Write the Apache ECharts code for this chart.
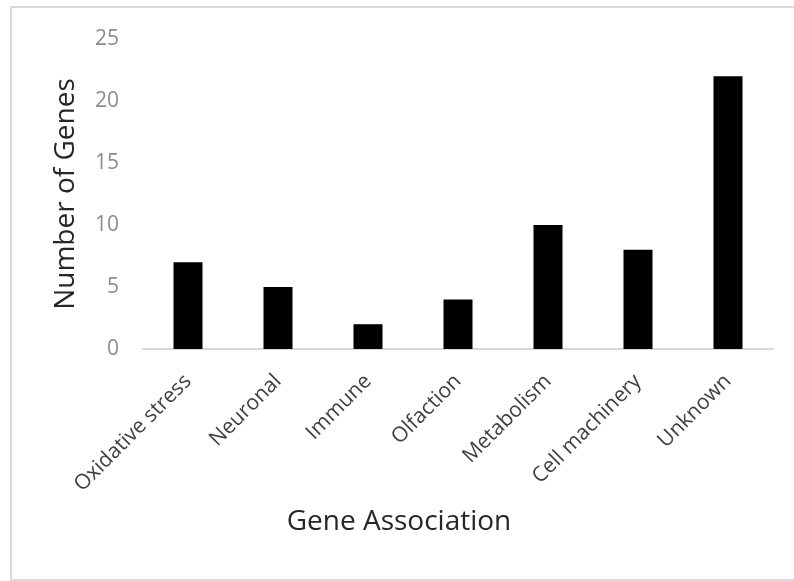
<!DOCTYPE html>
<html><head><meta charset="utf-8">
<script src="https://cdn.jsdelivr.net/npm/echarts@6/dist/echarts.min.js"></script>
<style>html,body{margin:0;padding:0;background:#fff}#c{width:794px;height:581px}</style>
</head><body><div id="c"></div>
<script>
const categories = ['Oxidative stress','Neuronal','Immune','Olfaction','Metabolism','Cell machinery','Unknown'];
const geneCounts = [7,5,2,4,10,8,22];
const yTicks = [0,5,10,15,20,25];
const yTitle = 'Number of Genes';
const xTitle = 'Gene Association';

const chart = echarts.init(document.getElementById('c'));
chart.setOption({
  animation:false,
  backgroundColor:'#fff',
  textStyle:{fontFamily:'Open Sans'},
  grid:{left:143,right:21,top:39,bottom:232},
  graphic:[
    {type:'rect',shape:{x:11,y:7,width:800,height:573},style:{fill:'none',stroke:'#d9d9d9',lineWidth:2},silent:true},
    {type:'text',x:399,y:522,style:{text:xTitle,align:'center',verticalAlign:'middle',font:'28px "Open Sans"',fill:'#262626'}}
  ],
  xAxis:{type:'category',data:categories,
    axisLine:{lineStyle:{color:'#d9d9d9',width:2}},
    axisTick:{show:false},
    axisLabel:{rotate:45,fontSize:21,color:'#404040',margin:29,interval:0}},
  yAxis:{type:'value',min:yTicks[0],max:yTicks[yTicks.length-1],interval:5,
    name:yTitle,nameLocation:'middle',nameGap:63,
    nameTextStyle:{fontSize:28,color:'#262626'},
    axisLine:{show:false},axisTick:{show:false},splitLine:{show:false},
    axisLabel:{fontSize:21,color:'#8c8c8c',margin:24}},
  series:[{type:'bar',data:geneCounts,barWidth:29,itemStyle:{color:'#000'}}]
});
</script></body></html>
